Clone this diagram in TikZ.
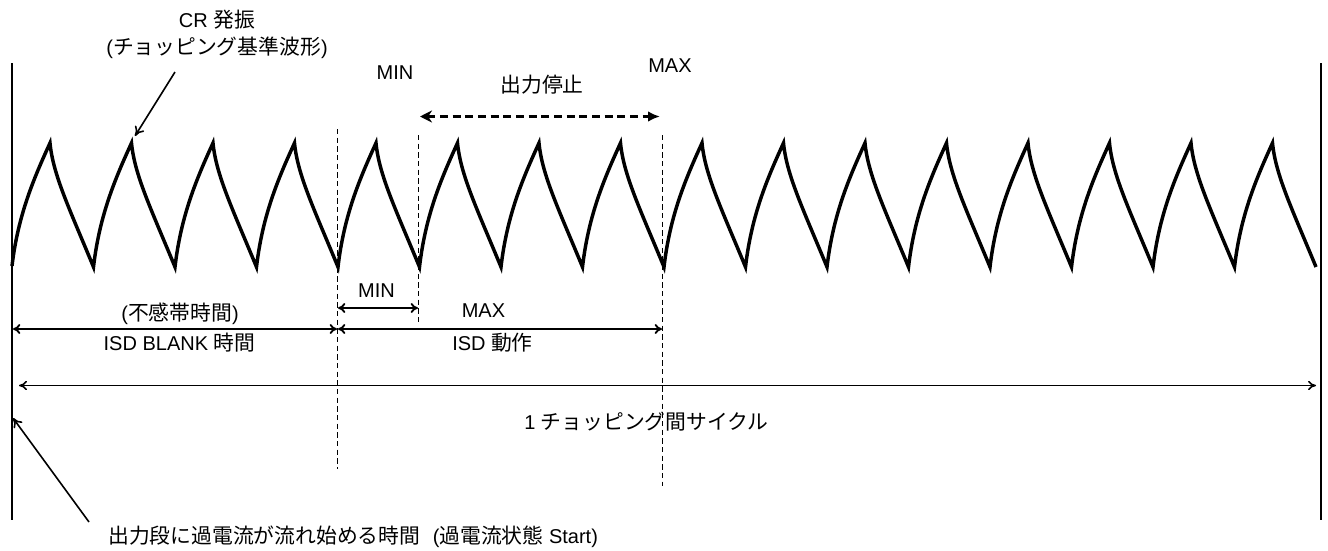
\documentclass[tikz,border=0pt]{standalone}
\usepackage{fontspec}
\setmainfont{Liberation Sans}
\newfontfamily\cjk[Scale=1.04]{Noto Sans CJK JP}
\usetikzlibrary{arrows.meta}
\begin{document}
\begin{tikzpicture}[x=0.75pt,y=-0.75pt,
  lbl/.style={inner sep=0pt,font=\fontsize{15}{18}\selectfont},
  wave/.style={line width=2.6pt,line join=miter},
  frame/.style={line width=1.5pt},
  guide/.style={line width=0.75pt,dash pattern=on 4pt off 2.5pt},
  dim/.style={line width=1.4pt,{To[length=5.5pt,width=7.5pt]}-{To[length=5.5pt,width=7.5pt]}},
  longdim/.style={line width=1.2pt,{To[length=6pt,width=7pt]}-{To[length=6pt,width=7pt]}},
  pointer/.style={line width=1.2pt,-{To[length=7pt,width=8pt]}},
  stopdim/.style={line width=1.7pt,dash pattern=on 6pt off 3.5pt,{Stealth[length=9pt,width=9pt]}-{Latex[length=9pt,width=8pt]}}
]
\useasboundingbox (0,0) rectangle (1328,550);

% frame lines
\coordinate (LT) at (12,63);  \coordinate (LB) at (12,520);
\coordinate (RT) at (1321,63); \coordinate (RB) at (1321,520);
\draw[frame] (LT) -- (LB);
\draw[frame] (RT) -- (RB);

% waveform
\draw[wave] (12,266)
  \foreach \k in {0,...,15} {
    .. controls ({12+81.5*\k+6},215) and ({12+81.5*\k+22},178) .. ({12+81.5*\k+38},143)
    .. controls ({12+81.5*\k+41},175) and ({12+81.5*\k+58},210) .. ({12+81.5*\k+81.5},267)
  };

% guide lines
\coordinate (G1t) at (337.5,129); \coordinate (G1b) at (337.5,469);
\coordinate (G2t) at (418.5,135); \coordinate (G2b) at (418.5,322);
\coordinate (G3t) at (662.5,135); \coordinate (G3b) at (662.5,486);
\draw[guide] (G1t) -- (G1b);
\draw[guide] (G2t) -- (G2b);
\draw[guide] (G3t) -- (G3b);

% top labels
\node[lbl] (cr) at (217,20) {CR {\cjk 発振}};
\node[lbl] (crsub) at (217,48) {({\cjk チョッピング基準波形})};
\coordinate (crA) at (175,72); \coordinate (crB) at (135,136);
\draw[pointer] (crA) -- (crB);

\node[lbl] (minTop) at (395,73) {MIN};
\node[lbl] (maxTop) at (670,66) {MAX};
\node[lbl] (stop) at (542,85) {\cjk 出力停止};
\coordinate (sA) at (420,116.5); \coordinate (sB) at (660,116.5);
\draw[stopdim] (sA) -- (sB);

% lower dimensions
\node[lbl] (minLow) at (376.5,291) {MIN};
\coordinate (mA) at (338,308); \coordinate (mB) at (418,308);
\draw[dim] (mA) -- (mB);

\node[lbl] (dead) at (180,314) {({\cjk 不感帯時間})};
\node[lbl] (maxLow) at (483.5,311) {MAX};

\coordinate (bA) at (13,329); \coordinate (bB) at (337,329);
\coordinate (oA) at (338,329); \coordinate (oB) at (662,329);
\draw[dim] (bA) -- (bB);
\draw[dim] (oA) -- (oB);
\node[lbl] (blank) at (179.5,343) {ISD BLANK {\cjk 時間}};
\node[lbl] (act) at (492.5,343) {ISD {\cjk 動作}};

\coordinate (cA) at (19,385.5); \coordinate (cB) at (1316,385.5);
\draw[longdim] (cA) -- (cB);
\node[lbl] (cycle) at (646.5,422) {1 {\cjk チョッピング間サイクル}};

% start pointer
\coordinate (pA) at (89,522); \coordinate (pB) at (13,418);
\draw[pointer] (pA) -- (pB);
\node[lbl,anchor=west] (start) at (108,536.5) {{\cjk 出力段に過電流が流れ始める時間}\hspace{0.35em} ({\cjk 過電流状態} Start)};
\end{tikzpicture}
\end{document}
